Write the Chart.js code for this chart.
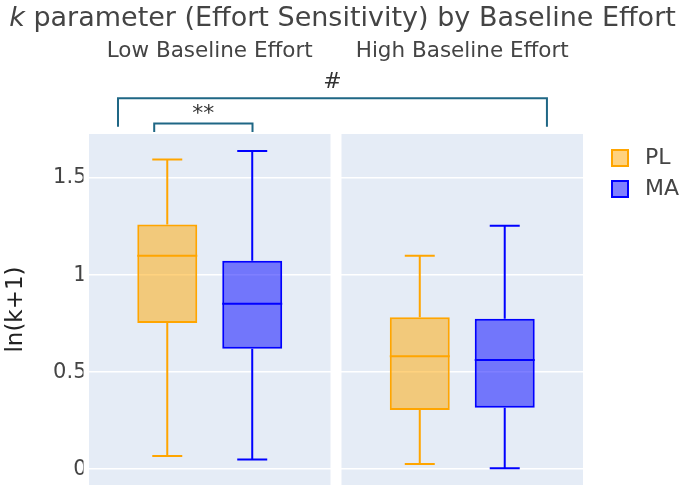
<!DOCTYPE html>
<html>
<head>
<meta charset="utf-8">
<script src="https://cdn.jsdelivr.net/npm/chart.js@4.4.1/dist/chart.umd.min.js"></script>
<style>
  html, body { margin: 0; padding: 0; background: #fff; }
  #wrap { width: 685px; height: 498px; }
</style>
</head>
<body>
<div id="wrap"><canvas id="chart" width="685" height="498"></canvas></div>
<script>
// groups (subplots)
const groups = ['Low Baseline Effort', 'High Baseline Effort'];

// PL box stats per group
const plMin = [0.067, 0.026];
const plQ1 = [0.753, 0.304];
const plMed = [1.10, 0.582];
const plQ3 = [1.261, 0.782];
const plMax = [1.596, 1.10];

// MA box stats per group
const maMin = [0.05, 0.004];
const maQ1 = [0.62, 0.316];
const maMed = [0.852, 0.562];
const maQ3 = [1.074, 0.775];
const maMax = [1.639, 1.254];

const yTicks = [0, 0.5, 1, 1.5];

// significance brackets, paper coords (x 0..1 over plot area, y 1 = top of panels)
const bracketX0 = [0.0587, 0.132];
const bracketX1 = [0.927, 0.331];
const bracketTop = [1.102, 1.030];
const bracketBottom = [1.021, 1.006];
const bracketLabels = ['#', '**'];

const FONT = "'DejaVu Sans', Verdana, sans-serif";
Chart.defaults.font.family = FONT;

const PANEL_BG = '#E5ECF6';
const TEXT = '#444';
const PANEL_INSET = 5.5;

function paperBox(area) {
  return { left: area.left + PANEL_INSET, right: area.right - PANEL_INSET, top: area.top, bottom: area.bottom };
}

const boxPlugin = {
  id: 'boxPlugin',
  beforeDraw(chart) {
    const { ctx, chartArea, scales } = chart;
    ctx.save();
    ctx.fillStyle = '#fff';
    ctx.fillRect(0, 0, chart.width, chart.height);
    // one panel per category band
    const band = (chartArea.right - chartArea.left) / groups.length;
    ctx.fillStyle = PANEL_BG;
    groups.forEach((g, i) => {
      const c = scales.x.getPixelForValue(i);
      ctx.fillRect(c - band / 2 + PANEL_INSET, chartArea.top, band - 2 * PANEL_INSET, chartArea.bottom - chartArea.top);
    });
    ctx.restore();
  },
  afterDatasetsDraw(chart) {
    const { ctx, scales } = chart;
    const y = scales.y;
    ctx.save();
    chart.data.datasets.forEach((ds, di) => {
      const meta = chart.getDatasetMeta(di);
      meta.data.forEach((bar, i) => {
        const x = bar.x;
        const w = bar.width;
        ctx.strokeStyle = ds.borderColor;
        ctx.lineWidth = 2;
        ctx.beginPath();
        // whiskers
        ctx.moveTo(x, y.getPixelForValue(ds.q3[i]));
        ctx.lineTo(x, y.getPixelForValue(ds.max[i]));
        ctx.moveTo(x, y.getPixelForValue(ds.q1[i]));
        ctx.lineTo(x, y.getPixelForValue(ds.min[i]));
        // caps
        const cy1 = y.getPixelForValue(ds.max[i]);
        const cy2 = y.getPixelForValue(ds.min[i]);
        ctx.moveTo(x - w / 4, cy1); ctx.lineTo(x + w / 4, cy1);
        ctx.moveTo(x - w / 4, cy2); ctx.lineTo(x + w / 4, cy2);
        // median
        const my = y.getPixelForValue(ds.med[i]);
        ctx.moveTo(x - w / 2, my); ctx.lineTo(x + w / 2, my);
        ctx.stroke();
      });
    });
    ctx.restore();
  },
  afterDraw(chart) {
    const { ctx, chartArea, scales } = chart;
    const p = paperBox(chartArea);
    const px = v => p.left + v * (p.right - p.left);
    const py = v => p.bottom - v * (p.bottom - p.top);
    ctx.save();

    // main title with italic k
    const t1 = 'k';
    const t2 = ' parameter (Effort Sensitivity) by Baseline Effort';
    ctx.fillStyle = TEXT;
    ctx.textBaseline = 'alphabetic';
    ctx.font = 'italic 27px ' + FONT;
    const w1 = ctx.measureText(t1).width;
    ctx.font = '27px ' + FONT;
    const w2 = ctx.measureText(t2).width;
    const tx = 342.5 - (w1 + w2) / 2;
    ctx.textAlign = 'left';
    ctx.font = 'italic 27px ' + FONT;
    ctx.fillText(t1, tx, 26);
    ctx.font = '27px ' + FONT;
    ctx.fillText(t2, tx + w1, 26);

    // subplot titles
    ctx.textAlign = 'center';
    ctx.font = '21.5px ' + FONT;
    groups.forEach((g, i) => {
      ctx.fillText(g, scales.x.getPixelForValue(i), 56.5);
    });

    // brackets
    ctx.strokeStyle = '#1f6785';
    ctx.lineWidth = 2;
    bracketLabels.forEach((lab, i) => {
      const x0 = px(bracketX0[i]), x1 = px(bracketX1[i]);
      const yt = py(bracketTop[i]), yb = py(bracketBottom[i]);
      ctx.beginPath();
      ctx.moveTo(x0, yb); ctx.lineTo(x0, yt); ctx.lineTo(x1, yt); ctx.lineTo(x1, yb);
      ctx.stroke();
      ctx.fillStyle = '#333';
      ctx.font = '22px ' + FONT;
      ctx.fillText(lab, (x0 + x1) / 2, i === 0 ? yt - 10 : yt - 3);
    });

    // legend
    ctx.textAlign = 'left';
    ctx.textBaseline = 'middle';
    ctx.font = '22px ' + FONT;
    chart.data.datasets.forEach((ds, i) => {
      const ly = 158 + i * 31;
      ctx.fillStyle = ds.legendFill;
      ctx.fillRect(612, ly - 8, 16, 16);
      ctx.strokeStyle = ds.borderColor;
      ctx.lineWidth = 2;
      ctx.strokeRect(612, ly - 8, 16, 16);
      ctx.fillStyle = TEXT;
      ctx.fillText(ds.label, 645, ly);
    });
    ctx.restore();
  }
};

new Chart(document.getElementById('chart'), {
  type: 'bar',
  data: {
    labels: groups,
    datasets: [
      {
        label: 'PL',
        data: groups.map((g, i) => [plQ1[i], plQ3[i]]),
        q1: plQ1, q3: plQ3, min: plMin, max: plMax, med: plMed,
        backgroundColor: 'rgba(255, 165, 0, 0.5)',
        legendFill: 'rgba(255, 165, 0, 0.5)',
        borderColor: '#FFA500',
        borderWidth: 2,
        borderSkipped: false,
        categoryPercentage: 0.673,
        barPercentage: 0.706,
      },
      {
        label: 'MA',
        data: groups.map((g, i) => [maQ1[i], maQ3[i]]),
        q1: maQ1, q3: maQ3, min: maMin, max: maMax, med: maMed,
        backgroundColor: 'rgba(0, 0, 255, 0.5)',
        legendFill: 'rgba(0, 0, 255, 0.5)',
        borderColor: '#0000FF',
        borderWidth: 2,
        borderSkipped: false,
        categoryPercentage: 0.673,
        barPercentage: 0.706,
      },
    ],
  },
  options: {
    responsive: false,
    animation: false,
    layout: {
      padding: { left: 2, right: 96.5, top: 134, bottom: 13 },
    },
    scales: {
      x: {
        display: false,
      },
      y: {
        min: -0.082,
        max: 1.727,
        afterBuildTicks: scale => {
          scale.ticks = yTicks.map(v => ({ value: v }));
        },
        afterFit: scale => {
          scale.width = 81.5;
        },
        border: { display: false },
        grid: {
          color: '#ffffff',
          lineWidth: 1.5,
          drawTicks: false,
        },
        ticks: {
          color: TEXT,
          padding: -3,
          font: { size: 21 },
          callback: v => String(v),
        },
        title: {
          display: true,
          text: 'ln(k+1)',
          color: '#222',
          padding: 0,
          font: { size: 23 },
        },
      },
    },
    plugins: {
      legend: { display: false },
      tooltip: { enabled: false },
    },
  },
  plugins: [boxPlugin],
});
</script>
</body>
</html>
